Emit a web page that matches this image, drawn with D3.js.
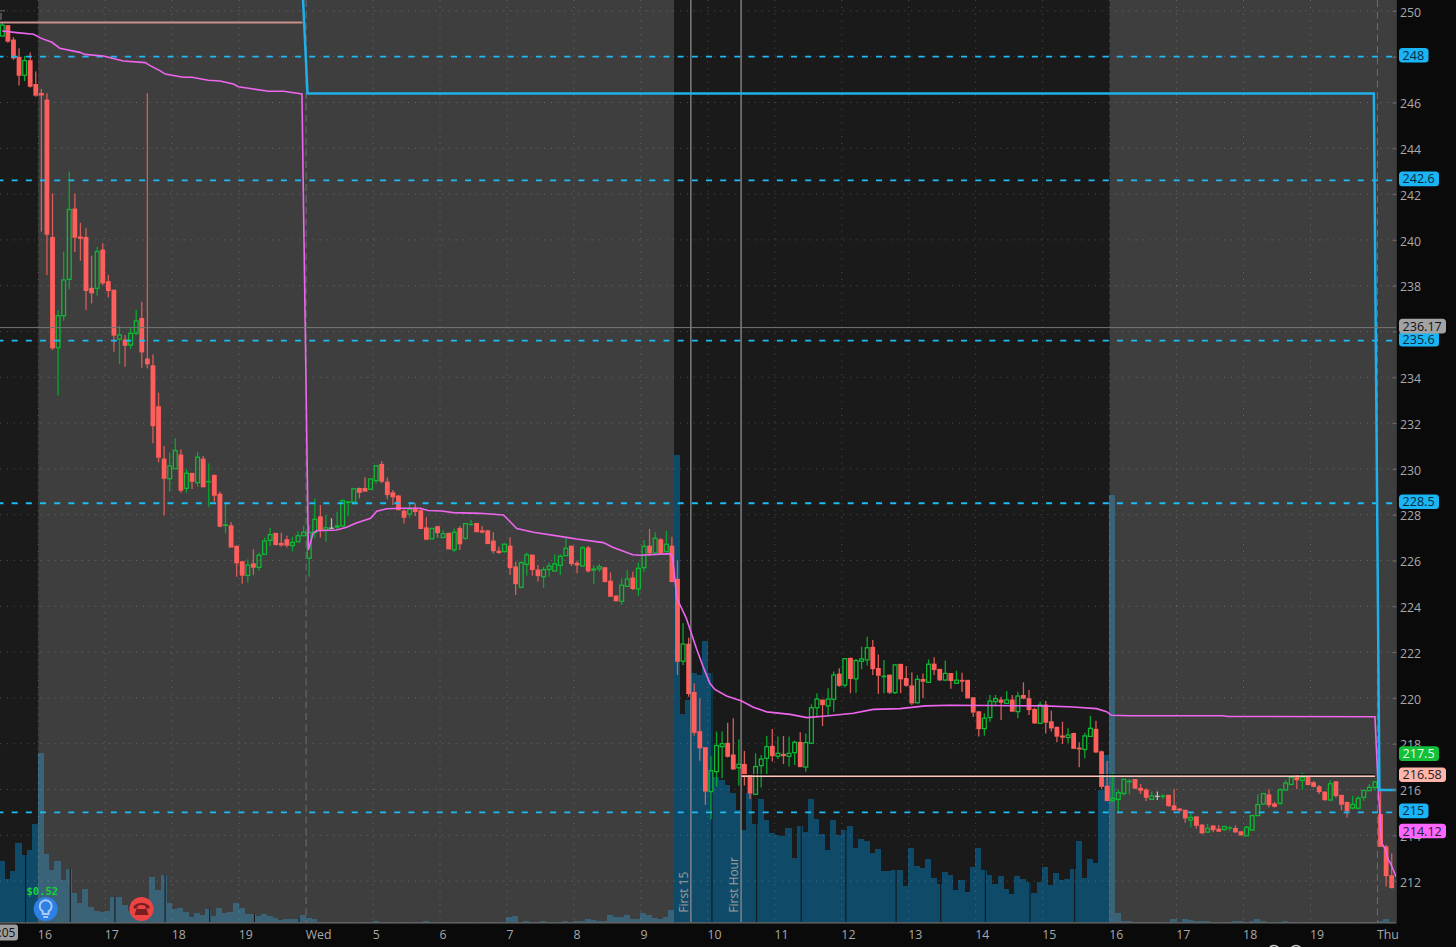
<!DOCTYPE html>
<html><head><meta charset="utf-8">
<script src="https://cdn.jsdelivr.net/npm/d3@7/dist/d3.min.js"></script>
<style>html,body{margin:0;padding:0;background:#0a0a0a;overflow:hidden}svg{display:block;font-family:"Open Sans",sans-serif}</style>
</head><body><svg id="c" width="1456" height="947"></svg>
<script>
const open=[248.90,249.36,248.73,247.97,247.19,247.83,246.79,246.40,246.11,240.11,
235.29,236.69,238.28,241.35,240.13,240.11,237.89,237.89,239.56,238.18,
237.81,235.67,235.63,235.41,235.92,236.57,234.80,234.51,232.72,230.43,
229.57,230.01,230.61,229.15,229.81,229.40,230.43,229.41,229.72,228.90,
227.51,227.52,226.63,225.95,225.35,225.86,225.70,226.27,226.88,227.19,
226.75,226.91,226.65,226.82,227.08,226.10,227.22,227.91,227.33,227.42,
227.43,227.51,228.51,228.55,229.15,229.15,229.11,229.49,230.20,229.43,
228.96,228.82,228.16,228.03,228.28,228.18,227.43,226.95,227.48,227.01,
227.19,226.47,227.40,226.97,227.55,227.62,227.30,227.30,226.85,226.41,
226.39,226.63,225.72,224.83,225.83,226.24,225.59,225.29,225.61,225.54,
225.79,226.21,226.63,225.88,225.76,226.55,225.56,225.63,225.69,225.10,
224.45,224.22,224.87,225.24,224.76,225.69,226.63,226.33,226.91,226.39,
226.63,225.18,221.60,222.35,220.24,218.53,217.83,215.91,216.78,217.87,
218.02,217.51,216.95,217.10,216.63,215.79,217.04,217.36,217.89,217.45,
217.54,217.45,217.61,218.06,216.98,218.02,219.57,219.91,219.65,219.94,
221.04,220.56,221.73,220.83,221.60,221.66,222.21,221.29,220.90,221.00,
220.23,221.47,220.85,220.53,219.79,220.81,220.68,221.48,221.25,220.78,
221.07,220.64,220.77,220.77,220.01,219.40,218.66,219.14,219.84,219.91,
219.76,219.91,219.40,220.11,219.97,219.50,218.89,219.69,218.96,218.72,
218.34,218.27,218.45,217.81,217.75,218.32,218.63,217.65,216.15,215.51,
215.57,215.83,216.31,216.44,216.05,215.98,215.57,215.71,215.67,215.75,
215.29,215.15,215.10,214.67,214.81,214.45,214.14,214.41,214.27,214.25,
214.29,214.30,214.16,213.98,214.23,214.86,215.37,215.77,215.37,215.40,
215.98,216.22,216.59,216.40,216.53,216.30,216.12,215.89,215.54,216.34,
215.75,215.44,215.19,215.18,215.66,215.95,216.09,214.91,213.50,212.24];
const close=[249.38,248.66,247.93,247.17,247.83,246.69,246.30,246.31,240.23,235.27,
236.69,238.25,241.33,240.10,240.05,237.77,237.67,239.49,238.10,237.77,
235.82,235.85,235.38,235.92,236.46,235.09,234.57,231.87,230.49,229.57,
230.13,230.80,229.05,229.81,229.44,230.51,229.20,229.46,228.83,227.48,
227.57,226.57,225.88,225.34,225.80,225.69,226.23,226.85,227.13,226.68,
226.66,226.65,226.79,227.08,227.23,227.23,227.80,227.29,227.43,227.42,
227.52,228.61,228.57,229.13,228.96,229.01,229.56,230.14,229.44,228.86,
228.76,228.20,227.87,228.23,228.12,227.38,226.91,227.40,227.20,227.17,
226.49,227.23,226.71,227.61,227.59,227.24,227.22,226.72,226.41,226.33,
226.71,225.67,224.97,225.90,226.25,225.59,225.32,225.60,225.76,225.85,
226.18,226.53,225.85,225.79,226.55,225.53,225.64,225.73,225.06,224.42,
224.23,224.92,225.19,224.76,225.66,226.62,226.31,226.97,226.31,226.71,
225.06,221.58,222.35,220.17,218.48,217.80,215.91,216.82,217.92,218.00,
217.43,216.88,217.10,216.60,215.83,217.00,217.33,217.87,217.46,217.58,
217.46,217.58,218.06,216.98,218.05,219.57,219.95,219.69,219.95,221.00,
220.53,221.71,220.83,221.63,221.70,222.19,221.26,220.97,220.96,220.23,
221.44,220.81,220.53,219.76,220.81,220.71,221.47,221.22,220.77,221.07,
220.74,220.77,220.71,219.98,219.36,218.64,219.11,219.86,219.97,219.79,
219.91,219.40,220.08,219.97,219.47,218.89,219.69,218.92,218.67,218.31,
218.27,218.38,217.78,217.75,218.34,218.67,217.62,216.12,215.50,215.61,
215.86,216.44,216.37,216.04,215.95,215.64,215.72,215.71,215.72,215.28,
215.10,215.08,214.74,214.78,214.42,214.09,214.30,214.23,214.16,214.38,
214.33,214.13,214.00,214.35,214.86,215.34,215.82,215.32,215.25,215.99,
216.28,216.53,216.41,216.53,216.20,216.12,215.89,215.54,216.25,215.72,
215.34,215.06,215.35,215.61,215.96,216.09,216.33,213.50,212.22,211.70];
const high=[249.49,249.36,248.85,248.37,248.03,248.18,247.35,246.59,246.40,242.03,
236.94,239.49,242.98,242.03,240.75,240.51,239.31,239.70,239.85,238.47,
237.81,236.25,235.85,236.21,236.94,237.30,246.40,235.00,233.33,231.00,
230.72,231.34,230.86,230.00,229.81,230.75,230.56,230.24,229.76,229.01,
228.47,227.67,226.63,225.99,226.05,226.49,226.34,227.01,227.43,227.19,
227.21,227.08,227.04,227.28,227.52,227.55,228.71,228.42,227.99,227.84,
228.13,228.67,228.60,229.13,229.18,229.63,229.59,230.14,230.34,229.62,
229.08,228.86,228.28,228.53,228.50,228.28,227.89,227.43,227.52,227.33,
227.21,227.40,227.51,227.62,227.77,227.62,227.51,227.33,227.23,226.60,
226.75,227.01,225.95,225.98,226.34,226.24,225.80,225.73,225.91,226.27,
226.27,227.01,226.63,225.99,226.63,226.63,225.79,225.85,225.73,225.48,
224.49,225.22,225.59,225.51,225.91,226.90,227.38,227.23,226.97,227.29,
227.04,226.02,223.26,222.63,220.64,219.98,217.83,217.46,218.53,218.53,
218.92,219.11,218.19,217.68,216.63,217.58,217.51,218.34,218.64,218.31,
218.34,218.31,218.13,218.50,218.45,219.72,220.20,219.91,220.42,221.15,
221.29,221.73,221.76,221.70,222.24,222.67,222.53,221.90,221.66,221.00,
221.47,221.47,221.39,221.12,221.00,221.07,221.68,221.77,221.25,221.63,
221.07,221.19,221.10,220.77,220.01,219.40,219.33,220.13,220.13,220.05,
220.30,220.13,220.27,220.68,220.35,219.57,219.84,219.87,219.44,218.74,
218.96,218.67,218.48,218.06,218.48,219.22,219.00,217.70,217.24,216.73,
216.01,216.46,216.46,216.44,216.24,216.05,215.91,215.91,215.80,215.76,
216.02,215.18,215.10,214.96,214.81,214.49,214.49,214.43,214.45,214.42,
214.41,214.43,214.16,214.41,214.89,215.79,215.83,216.01,215.47,216.05,
216.41,216.59,216.62,216.73,216.59,216.37,216.20,215.92,216.41,216.37,
215.76,215.47,215.73,215.72,216.01,216.24,216.37,216.05,213.58,213.21];
const low=[248.90,248.61,247.86,246.74,246.94,246.66,246.25,240.36,238.47,235.19,
233.20,236.47,237.84,239.47,239.09,236.94,237.23,237.56,238.03,237.48,
235.12,234.57,234.46,235.24,235.85,234.42,234.39,231.12,230.29,227.96,
229.01,230.00,228.96,228.96,229.12,229.22,229.20,228.35,228.57,227.45,
227.19,226.57,225.29,224.98,225.03,225.37,225.54,226.24,226.63,226.65,
226.60,226.57,226.40,226.79,227.08,225.29,226.97,227.00,226.82,227.40,
227.38,227.51,227.94,228.42,228.71,229.01,229.08,229.37,229.37,228.67,
228.42,228.20,227.62,227.87,227.94,227.38,226.90,226.92,227.00,226.97,
226.49,226.38,226.46,226.90,227.52,227.24,227.19,226.72,226.31,226.30,
226.34,225.37,224.49,224.79,225.34,225.34,225.08,224.81,225.29,225.54,
225.37,226.21,225.76,225.44,225.76,225.48,224.97,225.51,225.06,224.42,
224.20,224.06,224.86,224.71,224.45,225.51,226.20,226.27,226.31,226.34,
225.06,221.00,221.44,220.05,218.35,217.26,215.32,214.70,216.12,216.49,
217.40,216.85,216.17,216.17,215.59,215.76,216.09,216.68,217.22,217.33,
217.11,217.00,217.07,216.98,216.78,218.02,219.18,218.77,219.25,219.40,
220.49,220.45,220.20,220.23,221.25,221.41,221.00,220.17,220.20,220.17,
220.17,220.20,220.49,219.69,219.76,219.98,220.68,221.00,220.74,220.74,
220.40,220.61,220.27,219.98,219.17,218.31,218.35,218.96,219.69,219.04,
219.73,219.40,219.11,219.94,219.25,218.86,218.86,218.45,218.53,218.06,
217.99,218.02,217.78,216.97,217.36,218.31,217.58,216.02,215.50,215.47,
215.03,215.73,215.79,216.04,215.80,215.50,215.54,215.54,215.57,215.25,
215.06,215.03,214.55,214.35,214.30,214.04,214.11,214.13,214.14,214.20,
214.19,214.09,213.98,213.97,214.20,214.84,215.34,215.21,215.21,215.32,
215.95,216.20,216.01,215.98,216.18,216.09,215.80,215.51,215.51,215.64,
215.10,214.78,215.13,215.13,215.50,215.93,215.95,213.50,211.76,211.68];
const volume=[62,44,52,80,68,73,99,170,69,53,
62,43,54,30,20,34,16,12,11,12,
26,26,18,12,13,17,15,46,33,48,
20,14,15,11,6,10,8,14,7,15,
10,11,20,15,9,9,7,9,7,5,
3,4,4,4,8,5,4,1,1,1,
.5,1,.5,1,1,1,.5,2,1,.5,
.3,.3,1,.3,.3,1,2,.3,.3,.3,
.3,.3,.3,.3,.3,.3,.3,.3,.3,.3,
.3,6,7,.2,2,.5,.5,2,1,1,
.5,2,.3,2,2,4,3,2,2,8,
6,6,8,4,4,10,8,5,4,6,
13,468,209,223,250,248,282,250,146,143,
138,130,113,93,130,99,124,103,90,88,
87,95,65,97,91,124,104,89,73,103,
88,93,97,75,84,82,70,74,52,52,
53,53,37,75,57,55,64,45,39,51,
48,33,43,31,56,75,53,48,39,47,
34,29,47,44,41,30,41,56,38,50,
43,44,54,82,45,64,60,133,168,428,
10,2,2,1,1,1,1,1,1,1,
4,1,4,3,2,2,2,1,1,1,
1,1.5,1.5,1,2,4,2,1,1,1,
2,1,1,.5,.5,.5,1,.5,.5,.5,
.5,1,.5,.5,.5,1,1,2,4,1];
const vwapBar=[0,2.6,5.6,7,8.9,10.3,13.9,14.8,18.1,21.7,25.6,26.5,28.3,29.2,32.4,34,36.9,39,41.4,42.3,45,47.7,50.4,53.7,54.85,55.7,56.3,59.9,61.7,63.2,66,67.1,68.9,71.3,74.9,76.3,78.7,80.8,85.6,89.8,90.7,92.2,95.2,101.1,102.9,107.7,109.5,113,114.3,119.7,120.1,120.9,122.6,124.4,125.6,126.8,127.7,129.8,132.5,134.6,137,141.2,144.2,147.7,152.5,156.1,160.9,165.4,169.8,186.6,191.9,196.1,197.9,198.8,202.1,218.8,219.7,246,246.6,247.2,247.8,248.4,248.8,249.8];
const vwapVal=[249.12,249.05,248.98,248.80,248.63,248.37,248.19,248.10,248.03,247.81,247.74,247.61,247.38,247.24,247.10,247.10,246.97,246.94,246.81,246.69,246.59,246.49,246.49,246.37,226.46,227.19,227.30,227.33,227.45,227.62,227.84,228.15,228.26,228.28,228.28,228.18,228.16,228.09,228.06,227.99,227.77,227.40,227.23,227.01,226.94,226.78,226.57,226.25,226.23,226.30,226.17,224.35,223.47,222.16,221.36,220.64,220.37,220.08,219.86,219.59,219.39,219.28,219.14,219.21,219.33,219.50,219.53,219.65,219.68,219.65,219.60,219.53,219.40,219.24,219.22,219.22,219.19,219.18,215.98,213.65,213.43,212.92,212.77,212.19];
const levelBar=[53.9,54.7,245.8,246.8,250.3];
const levelVal=[250.48,246.39,246.39,215.98,215.98];
const dashedLevels=[248,242.6,235.6,228.5,215];
const priceTicks=d3.range(212,251,2);
const hiddenTickLabels=[248,236];
const hourBars=[7,19,31,43,55,67,79,91,103,115,127,139,151,163,175,187,199,211,223,235,247];
const hourLabels=["16","17","18","19","Wed","5","6","7","8","9","10","11","12","13","14","15","16","17","18","19","Thu"];
const dayBars=[55,247];
const sessionBars=[7,121,199];
const volumeBreaks=[4,12,20,29,37,45,53,127,135,143,151,160,168,176,184,192];
const markerBars=[123.4,132.4];
const markerNames=["First 15","First Hour"];
const priorHigh={from:-1,to:53.8,value:249.49};
const priorClose={from:132.4,to:246,value:216.58};
const crosshair=236.17;
const tags=[
 {t:"248",v:248,f:"#1ab5f5",c:"#062a3c"},{t:"242.6",v:242.6,f:"#1ab5f5",c:"#062a3c"},
 {t:"235.6",v:235.6,f:"#1ab5f5",c:"#062a3c"},{t:"236.17",v:236.17,f:"#a3a3a3",c:"#111"},
 {t:"228.5",v:228.5,f:"#1ab5f5",c:"#062a3c"},{t:"217.5",v:217.5,f:"#12c03a",c:"#e8ffe8"},
 {t:"216.58",v:216.58,f:"#ffb5aa",c:"#222"},{t:"215",v:215,f:"#1ab5f5",c:"#062a3c"},
 {t:"214.12",v:214.12,f:"#ff66ff",c:"#222"}];

const W=1456,H=947,plotR=1396.5,plotB=922.5;
const x=d3.scaleLinear().domain([0,249]).range([2.3,1391.7]);
const y=d3.scaleLinear().domain([250,212]).range([10.9,881.1]);
const yv=d3.scaleLinear().domain([0,470]).range([plotB,plotB-470]);
const step=x(1)-x(0), edge=b=>x(b)-3.1;
const svg=d3.select("#c");
svg.append("rect").attr("width",W).attr("height",H).attr("fill","#0a0a0a");
const defs=svg.append("defs");
defs.append("clipPath").attr("id","plot").append("rect").attr("width",plotR).attr("height",plotB);
const plot=svg.append("g").attr("clip-path","url(#plot)");
const GREY="#3e3e3e",DARK="#1a1a1a";
const edges=[0,...sessionBars.map(edge),plotR];
d3.range(4).forEach(k=>plot.append("rect").attr("x",edges[k]).attr("y",0).attr("width",edges[k+1]-edges[k]).attr("height",plotB).attr("fill",k%2?GREY:DARK));
// volume
const inReg=i=>i<7||(i>=121&&i<199);
plot.append("g").attr("shape-rendering","crispEdges").selectAll("rect").data(volume).join("rect")
 .attr("x",(d,i)=>x(i)-3.6).attr("width",step+.5).attr("y",d=>yv(d)).attr("height",d=>plotB-yv(d))
 .attr("fill",(d,i)=>inReg(i)?"#0f4a69":"#3a6378");
plot.append("g").selectAll("line").data(volumeBreaks).join("line")
 .attr("x1",b=>x(b)+1).attr("x2",b=>x(b)+1).attr("y1",plotB).attr("y2",b=>yv(volume[b]))
 .attr("stroke","#141414").attr("stroke-width",1);
// grid
const grid=plot.append("g").attr("stroke","#fff").attr("stroke-opacity",.2).attr("stroke-dasharray","1.2,5.6");
grid.selectAll(".h").data(priceTicks).join("line").attr("x1",0).attr("x2",plotR).attr("y1",d=>y(d)).attr("y2",d=>y(d));
grid.selectAll(".v").data(hourBars.filter(b=>!dayBars.includes(b))).join("line").attr("x1",edge).attr("x2",edge).attr("y1",0).attr("y2",plotB);
plot.append("g").selectAll("line").data(dayBars).join("line").attr("x1",edge).attr("x2",edge).attr("y1",0).attr("y2",plotB)
 .attr("stroke","#6e6e6e").attr("stroke-dasharray","7,4.5");
// candles
const bars=d3.range(open.length);
const RED="#ff5f5c",GREEN="#0fb835";
const col=i=>close[i]>open[i]?GREEN:close[i]<open[i]?RED:"#bdbdbd";
const wick=i=>close[i]>open[i]?"#0aa52e":close[i]<open[i]?"#d95c58":"#bdbdbd";
const cg=plot.append("g");
bars.forEach(i=>{
  const top=y(Math.max(open[i],close[i])),bot=y(Math.min(open[i],close[i])),cx=x(i);
  const g=cg.append("g");
  g.append("line").attr("x1",cx).attr("x2",cx).attr("y1",y(high[i])).attr("y2",top).attr("stroke",wick(i)).attr("stroke-width",1.3);
  g.append("line").attr("x1",cx).attr("x2",cx).attr("y1",bot).attr("y2",y(low[i])).attr("stroke",wick(i)).attr("stroke-width",1.3);
  if(close[i]>=open[i]&&bot-top>2.2){
    g.append("rect").attr("x",cx-1.9).attr("width",3.8).attr("y",top).attr("height",bot-top)
     .attr("fill","none").attr("stroke",col(i)).attr("stroke-width",1.3);
  }else{
    g.append("rect").attr("x",cx-2.4).attr("width",4.8).attr("y",top-.4).attr("height",Math.max(bot-top,.8)+.5).attr("fill",col(i));
  }
});
// levels
plot.append("g").selectAll("line").data(dashedLevels).join("line")
 .attr("x1",0).attr("x2",plotR-3).attr("y1",y).attr("y2",y)
 .attr("stroke","#1dbcf6").attr("stroke-width",1.8).attr("stroke-dasharray","6,8.17").attr("stroke-dashoffset",2.5);
const hl=(o,c,w,sh)=>{
  if(sh) plot.append("line").attr("x1",x(o.from)).attr("x2",x(o.to)).attr("y1",y(o.value)-1.6).attr("y2",y(o.value)-1.6).attr("stroke",sh).attr("stroke-width",1);
  plot.append("line").attr("x1",x(o.from)).attr("x2",x(o.to)).attr("y1",y(o.value)).attr("y2",y(o.value)).attr("stroke",c).attr("stroke-width",w);
};
hl(priorHigh,"#c98f8a",2);
hl(priorClose,"#ffc6bd",1.4,"#0c0c0c");
// first 15 / first hour
plot.append("g").selectAll("line").data(markerBars).join("line").attr("x1",x).attr("x2",x).attr("y1",0).attr("y2",plotB)
 .attr("stroke","#8c8c8c").attr("stroke-width",1.3);
plot.append("g").selectAll("text").data(markerBars).join("text")
 .attr("transform",b=>`translate(${x(b)-3},912.7) rotate(-90)`).attr("font-size",12).attr("fill","#9c9c9c").text((b,i)=>markerNames[i]);
// vwap, level line
const line=d3.line().x(d=>x(d[0])).y(d=>y(d[1]));
plot.append("path").attr("d",line(vwapBar.map((b,i)=>[b,vwapVal[i]]))).attr("fill","none").attr("stroke","#ee66ee").attr("stroke-width",1.6);
plot.append("path").attr("d",line(levelBar.map((b,i)=>[b,levelVal[i]]))).attr("fill","none").attr("stroke","#1fb0ec").attr("stroke-width",2.5);
// crosshair
plot.append("line").attr("x1",0).attr("x2",plotR).attr("y1",y(crosshair)).attr("y2",y(crosshair)).attr("stroke","#767676").attr("stroke-width",1);
// frame
svg.append("line").attr("x1",0).attr("x2",plotR).attr("y1",plotB+.3).attr("y2",plotB+.3).attr("stroke","#6e6e6e").attr("stroke-width",1.2);
svg.append("line").attr("x1",plotR).attr("x2",plotR).attr("y1",0).attr("y2",plotB).attr("stroke","#333");
// axes
const yAxis=d3.axisRight(y).tickValues(priceTicks).tickFormat(d=>hiddenTickLabels.includes(d)?"":d3.format("d")(d)).tickSizeInner(-4).tickSizeOuter(0).tickPadding(8);
const ga=svg.append("g").attr("transform",`translate(${plotR},0)`).call(yAxis);
ga.select(".domain").remove();
ga.selectAll("line").attr("stroke","#6a6a6a");
ga.selectAll("text").attr("x",3.4).attr("y",1.3).attr("fill","#a9a9a9").attr("font-size",12.3).attr("font-family",'"Open Sans",sans-serif');
const xAxis=d3.axisBottom(x).tickValues(hourBars).tickFormat((d,i)=>hourLabels[i]).tickSize(0);
const gx=svg.append("g").attr("transform",`translate(0,${plotB})`).call(xAxis);
gx.select(".domain").remove();
gx.selectAll("text").attr("text-anchor","start").attr("x",-4).attr("y",7.6).attr("fill","#a9a9a9").attr("font-size",12.3).attr("font-family",'"Open Sans",sans-serif');
// tags
const tg=svg.append("g");
tags.forEach(t=>{
  const cy=y(t.v)-1.5, wd=t.t.length<4?29.5:t.t.length<6?40:47;
  tg.append("rect").attr("x",1399).attr("y",cy-7.3).attr("width",wd).attr("height",14.6).attr("rx",3.5).attr("fill",t.f);
  tg.append("text").attr("x",1402.5).attr("y",cy+4.5).attr("font-size",12.6).attr("fill",t.c).text(t.t);
});
// time bubble
svg.append("rect").attr("x",-8).attr("y",924.5).attr("width",26).attr("height",16).attr("rx",3).attr("fill","#9e9e9e");
svg.append("text").attr("x",-1.5).attr("y",937).attr("font-size",12).attr("fill","#111").text(":05");
// earnings annotations
svg.append("text").attr("x",26.5).attr("y",895).attr("font-family","DejaVu Sans Mono").attr("font-weight","bold").attr("font-size",10.5).attr("fill","#12d632").text("$0.52");
svg.append("circle").attr("cx",45.7).attr("cy",909).attr("r",12).attr("fill","#2e80e6");
const bulb=svg.append("g").attr("fill","none").attr("stroke","#a8cdf5").attr("stroke-width",2);
bulb.append("path").attr("d","M42.8 911.5 a6 6 0 1 1 5.8 0 v2.5 h-5.8 z");
bulb.append("path").attr("d","M43.3 917 h4.8");
svg.append("circle").attr("cx",141.5).attr("cy",909).attr("r",12).attr("fill","#ee4444");
svg.append("path").attr("d","M133.5 906 q8 -6.5 16 0 v2.5 h-4 v-2.5 q-4 -2 -8 0 v2.5 h-4 z M136.5 909 h10 l2 6 h-14 z").attr("fill","#7a1f1f");
// stray window furniture
svg.append("path").attr("d","M0 10 h5 v1.5 h-5 z M0 13 h2 v7 h-2 z").attr("fill","#4d4d4d");
svg.append("g").attr("fill","none").attr("stroke","#cfcfcf").attr("stroke-width",1.5).selectAll("circle").data([1274,1296]).join("circle").attr("cx",d=>d).attr("cy",951).attr("r",5.5);
</script></body></html>
